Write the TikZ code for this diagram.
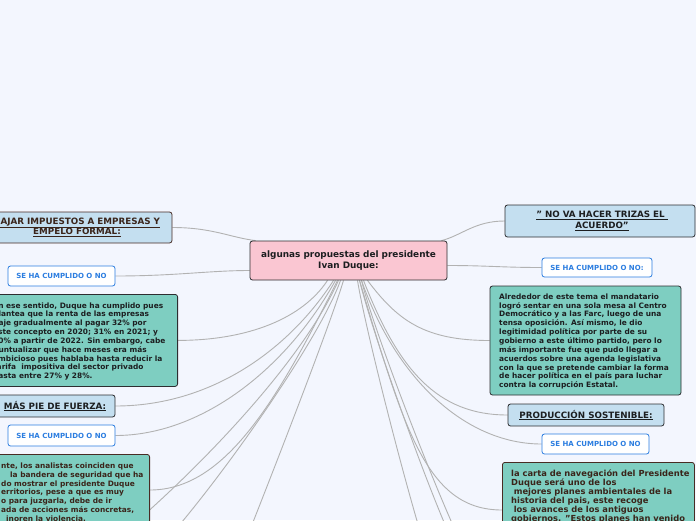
\documentclass[tikz,border=0pt]{standalone}
\usepackage{fontspec}
\setmainfont{DejaVu Sans}
\pgfdeclarelayer{bgl}
\pgfdeclarelayer{edgel}
\pgfsetlayers{bgl,edgel,main}
\definecolor{bgc}{RGB}{243,246,254}
\definecolor{tealc}{RGB}{126,206,193}
\definecolor{lblue}{RGB}{196,223,240}
\definecolor{pinkc}{RGB}{250,198,210}
\definecolor{conncol}{RGB}{178,178,178}
\definecolor{chkblue}{RGB}{43,125,224}
\definecolor{darkline}{RGB}{45,45,48}
\definecolor{brownline}{RGB}{72,44,36}
\definecolor{browntext}{RGB}{58,36,26}
\definecolor{darktext}{RGB}{28,30,32}
\tikzset{
  box/.style={draw=darkline, line width=0.8pt, rounded corners=2.5pt, inner sep=0pt, align=center},
  topic/.style={box, fill=lblue, text=darktext, font=\bfseries\fontsize{8.75}{10.4}\selectfont},
  central/.style={box, fill=pinkc, text=darktext, font=\bfseries\fontsize{8.9}{10.2}\selectfont},
  chk/.style={draw=chkblue, line width=0.8pt, rounded corners=2.5pt, fill=white, text=chkblue,
    font=\bfseries\fontsize{7.0}{8}\selectfont, inner sep=0pt},
  tealbox/.style={draw=darkline, line width=0.8pt, rounded corners=2.5pt, fill=tealc, inner sep=0pt},
  tealtext/.style={inner sep=0pt, align=left, anchor=north west, text=darktext,
    font=\bfseries\fontsize{7.42}{8.85}\selectfont},
  conn/.style={draw=conncol, line width=0.9pt},
}
\begin{document}
\begin{tikzpicture}[x=1pt,y=-1pt]
\useasboundingbox (0,0) rectangle (696,520);
\begin{pgfonlayer}{bgl}
\fill[bgc] (0,0) rectangle (696,520);
\end{pgfonlayer}

% central
\node[central, minimum width=197pt, minimum height=39pt] (c) at (348.5,260.5)
  {algunas propuestas del presidente\\Ivan Duque:};

% left side
\node[topic, minimum width=190pt, minimum height=31pt, draw=brownline, text=browntext] (b2) at (77,227.5)
  {\underline{BAJAR IMPUESTOS A EMPRESAS Y}\\\underline{EMPELO FORMAL:}};
\node[chk, minimum width=107pt, minimum height=20pt] (k1) at (61.5,276) {SE HA CUMPLIDO O NO};
\node[tealbox, minimum width=196pt, minimum height=92pt, anchor=north east] (t4) at (178,294) {};
\node[tealtext] (t4x) at (-7,302.2) {En ese sentido, Duque ha cumplido pues\\
plantea que la renta de las empresas\\
baje gradualmente al pagar 32\% por\\
este concepto en 2020; 31\% en 2021; y\\
30\% a partir de 2022. Sin embargo, cabe\\
puntualizar que hace meses era más\\
ambicioso pues hablaba hasta reducir la\\
tarifa\ \ impositiva del sector privado\\
hasta entre 27\% y 28\%.};
\node[topic, minimum width=120pt, minimum height=22pt] (b5) at (55,406) {\underline{MÁS PIE DE FUERZA:}};
\node[chk, minimum width=107pt, minimum height=21pt] (k2) at (61.5,435.5) {SE HA CUMPLIDO O NO};
\node[tealbox, draw=brownline, minimum width=170pt, minimum height=72pt, anchor=north east] (t7) at (150,454) {};
\node[tealtext, text=browntext] (t7x) at (1,462.5) {nte, los analistas coinciden que\\
\hspace*{9pt}la bandera de seguridad que ha\\
do mostrar el presidente Duque\\
erritorios, pese a que es muy\\
o para juzgarla, debe de ir\\
ada de acciones más concretas,\\
\hspace*{5pt}inoren la violencia.};

% right side
\node[topic, minimum width=190pt, minimum height=32pt, text width=186pt] (b8) at (600,221)
  {\hspace*{4pt}\underline{" NO VA HACER TRIZAS EL\ }\\\hspace*{4pt}\underline{ACUERDO"}};
\node[chk, minimum width=110pt, minimum height=19pt] (k3) at (597,267.5) {SE HA CUMPLIDO O NO:};
\node[tealbox, minimum width=191pt, minimum height=109pt] (t10) at (585.5,340.5) {};
\node[tealtext] (t10x) at (499,293.4) {Alrededor de este tema el mandatario\\
logró sentar en una sola mesa al Centro\\
Democrático y a las Farc, luego de una\\
tensa oposición. Así mismo, le dio\\
legitimidad política por parte de su\\
gobierno a este último partido, pero lo\\
más importante fue que pudo llegar a\\
acuerdos sobre una agenda legislativa\\
con la que se pretende cambiar la forma\\
de hacer política en el país para luchar\\
contra la corrupción Estatal.};
\node[topic, minimum width=156pt, minimum height=22pt] (b11) at (586,415) {\underline{PRODUCCIÓN SOSTENIBLE:}};
\node[chk, minimum width=107pt, minimum height=20pt] (k4) at (595.5,444) {SE HA CUMPLIDO O NO};
\node[tealbox, draw=brownline, minimum width=192pt, minimum height=80pt, anchor=north west] (t13) at (502,462) {};
\node[tealtext, text=browntext, font=\bfseries\fontsize{8.35}{9.15}\selectfont] (t13x) at (511,469.3)
  {la carta de navegación del Presidente\\
Duque será uno de los\\
\hspace*{2.6pt}mejores planes ambientales de la\\
historia del pais, este recoge\\
\hspace*{2.6pt}los avances de los antiguos\\
gobiernos. "Estos planes han venido};

% off-page ends
\coordinate (o1) at (112,542);
\coordinate (o2) at (147,560);
\coordinate (o3) at (238,560);
\coordinate (o4) at (429,560);
\coordinate (o5) at (461,560);
\coordinate (o6) at (469,560);

\begin{pgfonlayer}{edgel}
\draw[conn] (b2.east) .. controls +(40,0) and +(-25,-3) .. ([xshift=6pt]c.north west);
\draw[conn] (k1.east) .. controls +(60,0) and +(-40,0) .. ([yshift=-10pt]c.west);
\draw[conn] ([xshift=-21pt]c.south) .. controls +(-25,38) and +(70,0) .. (t4.east);
\draw[conn] ([xshift=-15pt]c.south) .. controls +(-45,70) and +(95,0) .. (b5.east);
\draw[conn] ([xshift=-13pt]c.south) .. controls +(-50,90) and +(85,0) .. (k2.east);
\draw[conn] ([xshift=-11pt]c.south) .. controls +(-60,120) and +(75,0) .. ([yshift=-36pt]t7.north east);
\draw[conn] ([xshift=-10pt]c.south) .. controls +(-45,100) and +(45,-35) .. (o1);
\draw[conn] ([xshift=-8pt]c.south) .. controls +(-25,70) and +(40,-35) .. (o2);
\draw[conn] ([xshift=-5pt]c.south) .. controls +(-15,50) and +(20,-50) .. (o3);
\draw[conn] (k3.west) .. controls +(-40,0) and +(40,0) .. ([yshift=-5pt]c.east);
\draw[conn] (b8.west) .. controls +(-30,0) and +(20,-5) .. ([xshift=-6pt]c.north east);
\draw[conn] ([xshift=19pt]c.south) .. controls +(30,40) and +(-65,0) .. (t10.west);
\draw[conn] ([xshift=15pt]c.south) .. controls +(35,90) and +(-70,0) .. (b11.west);
\draw[conn] ([xshift=13pt]c.south) .. controls +(35,100) and +(-75,0) .. (k4.west);
\draw[conn] ([xshift=11pt]c.south) .. controls +(45,150) and +(-75,0) .. ([yshift=-48pt]t13.north west);
\draw[conn] ([xshift=9pt]c.south) .. controls +(8,50) and +(-20,-60) .. (o4);
\draw[conn] ([xshift=11pt]c.south) .. controls +(12,50) and +(-30,-60) .. (o5);
\draw[conn] ([xshift=13pt]c.south) .. controls +(12,50) and +(-30,-60) .. (o6);
\end{pgfonlayer}
\end{tikzpicture}
\end{document}
